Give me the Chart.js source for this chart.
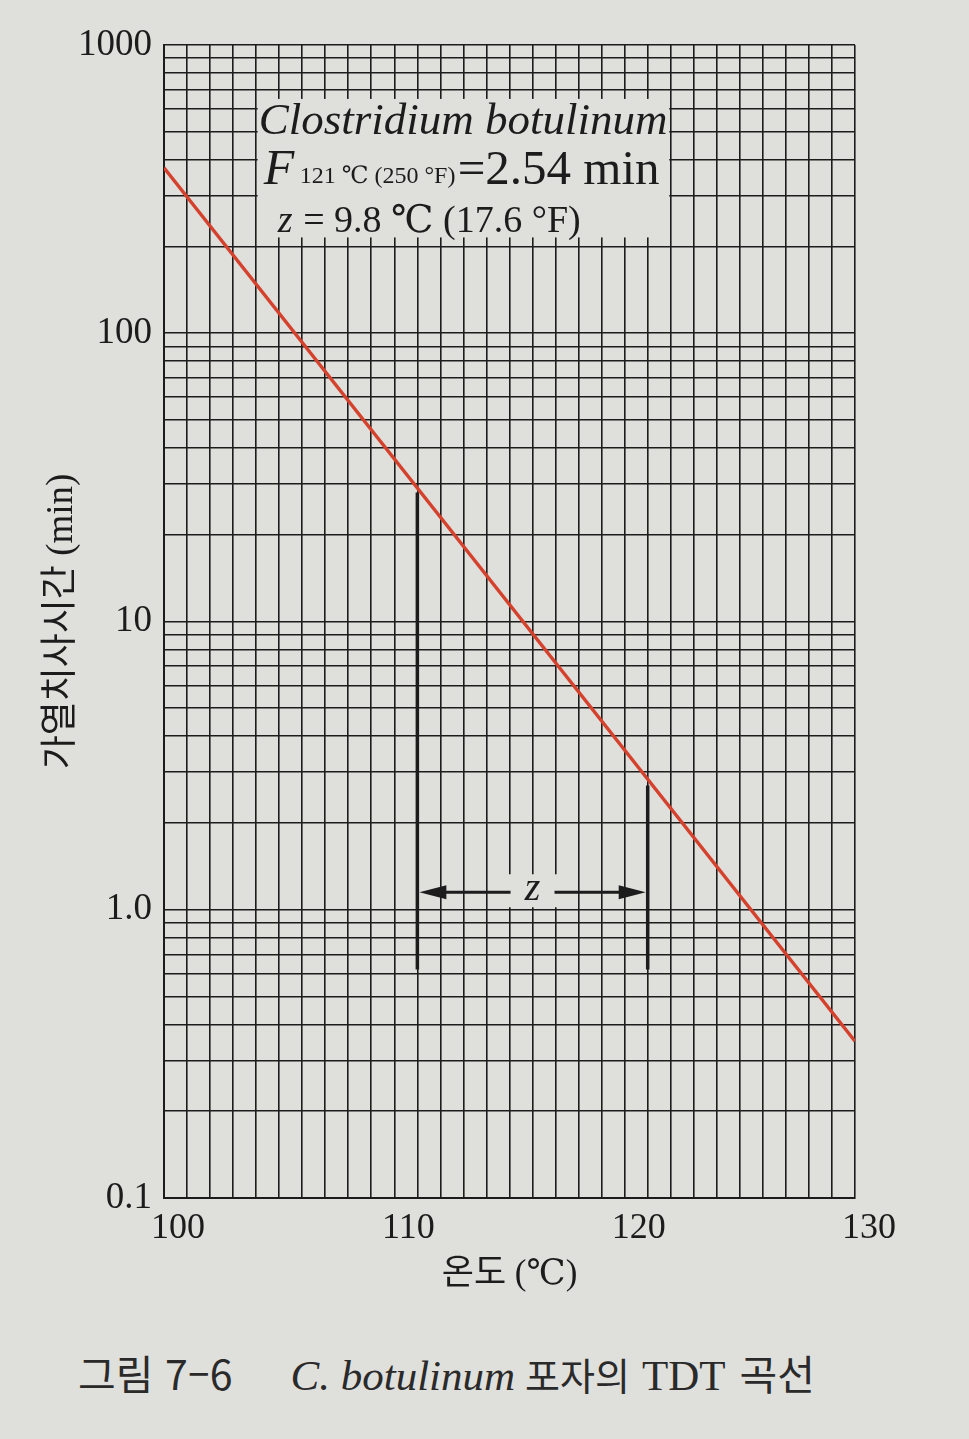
<!DOCTYPE html>
<html lang="ko">
<head>
<meta charset="utf-8">
<title>C. botulinum TDT</title>
<script src="https://cdn.jsdelivr.net/npm/chart.js@4.4.1/dist/chart.umd.min.js"></script>
<style>
  html, body { margin: 0; background: #dfdfdc; }
  #wrap { position: absolute; left: 0; top: 0; width: 969px; height: 1320px; }
  #caption { position: absolute; left: 78px; top: 1345px; white-space: nowrap; color: #2a2a2a; line-height: 54px; font-size: 0; }
  .kr { font-family: 'Noto Sans CJK KR', sans-serif; font-size: 41px; }
  .it { font-family: 'Liberation Serif', serif; font-style: italic; font-size: 43px; }
  .sr { font-family: 'Liberation Serif', serif; font-size: 43px; }
</style>
</head>
<body>
<div id="wrap"><canvas id="tdtChart"></canvas></div>
<div id="caption"><span class="kr">그림 7–6</span><span class="it" style="margin-left:58px">C. botulinum</span><span class="kr" style="margin-left:10px;font-size:38px">포자의</span><span class="sr" style="margin-left:12px">TDT</span><span class="kr" style="margin-left:14px;font-size:41px">곡선</span></div>
<script>
// TDT curve (temperature in C, time in min)
const tdtTemp = [100, 130];
const tdtTime = [375, 0.35];

// z markers: the two temperatures, where they meet the curve, and the arrow height
const zTemp = [111, 121];
const zTop = [28, 2.7];
const zBottom = 0.62;
const zArrowTime = 1.15;

// axis ticks
const xMin = 100;
const xMax = 130;
const xLabelled = [100, 110, 120, 130];
const yDecades = [0.1, 1, 10, 100, 1000];
const yDecadeLabels = ['0.1', '1.0', '10', '100', '1000'];

const paper = '#dfdfdc';
const ink = '#1c1c1c';
const serif = "'Liberation Serif', 'DejaVu Serif', 'Noto Sans CJK KR', serif";

// minor grid values 1..9 in every decade
const yGrid = [];
yDecades.forEach((d, i) => {
    if (i === yDecades.length - 1) { yGrid.push(d); return; }
    for (let m = 1; m <= 9; m++) yGrid.push(+(d * m).toPrecision(3));
});

// plugin for the text box and the z arrow
const annotations = {
    id: 'annotations',
    beforeDatasetsDraw(chart) {
        const { ctx, scales: { x, y } } = chart;
        ctx.save();
        // blank box behind the legend text
        const l = x.getPixelForValue(104) + 1.5;
        const r = x.getPixelForValue(122) - 1.5;
        const t = y.getPixelForValue(650);
        const b = y.getPixelForValue(215);
        ctx.fillStyle = paper;
        ctx.fillRect(l, t, r - l, b - t);

        ctx.fillStyle = ink;
        ctx.textBaseline = 'alphabetic';
        ctx.font = 'italic 45px ' + serif;
        ctx.fillText('Clostridium botulinum', l + 1, t + 35);

        ctx.font = 'italic 50px ' + serif;
        ctx.fillText('F', l + 6, t + 85);
        ctx.font = '24px ' + serif;
        ctx.fillText('121 ℃ (250 °F)', l + 42, t + 84);
        ctx.font = '49px ' + serif;
        ctx.fillText('=2.54 min', l + 200, t + 85);

        ctx.font = 'italic 38px ' + serif;
        ctx.fillText('z', l + 20, t + 133);
        ctx.font = '38px ' + serif;
        ctx.fillText(' = 9.8 ℃ (17.6 °F)', l + 36, t + 133);

        // blank patch behind the z label
        const mid = (x.getPixelForValue(zTemp[0]) + x.getPixelForValue(zTemp[1])) / 2;
        const ay = y.getPixelForValue(zArrowTime);
        ctx.fillStyle = paper;
        ctx.fillRect(mid - 32, ay - 18, 64, 33);
        ctx.restore();
    },
    afterDatasetsDraw(chart) {
        const { ctx, scales: { x, y } } = chart;
        const x1 = x.getPixelForValue(zTemp[0]);
        const x2 = x.getPixelForValue(zTemp[1]);
        const ay = y.getPixelForValue(zArrowTime);
        const mid = (x1 + x2) / 2;
        ctx.save();
        ctx.strokeStyle = ink;
        ctx.fillStyle = ink;
        ctx.lineWidth = 3;
        ctx.beginPath();
        ctx.moveTo(x1 + 20, ay); ctx.lineTo(mid - 22, ay);
        ctx.moveTo(mid + 22, ay); ctx.lineTo(x2 - 20, ay);
        ctx.stroke();
        // arrow heads
        ctx.beginPath();
        ctx.moveTo(x1 + 2, ay); ctx.lineTo(x1 + 29, ay - 7); ctx.lineTo(x1 + 29, ay + 7); ctx.closePath();
        ctx.moveTo(x2 - 2, ay); ctx.lineTo(x2 - 29, ay - 7); ctx.lineTo(x2 - 29, ay + 7); ctx.closePath();
        ctx.fill();
        ctx.font = 'italic 40px ' + serif;
        ctx.textAlign = 'center';
        ctx.textBaseline = 'middle';
        ctx.fillText('z', mid, ay - 3);
        ctx.restore();
    }
};

const zLine = (i) => ({
    data: [{ x: zTemp[i], y: zBottom }, { x: zTemp[i], y: zTop[i] }],
    showLine: true,
    borderColor: ink,
    borderWidth: 3.5,
    pointRadius: 0
});

new Chart(document.getElementById('tdtChart'), {
    type: 'scatter',
    data: {
        datasets: [
            {
                label: 'TDT',
                data: tdtTemp.map((t, i) => ({ x: t, y: tdtTime[i] })),
                showLine: true,
                borderColor: '#d4412c',
                borderWidth: 3.4,
                pointRadius: 0
            },
            zLine(0),
            zLine(1)
        ]
    },
    options: {
        responsive: true,
        maintainAspectRatio: false,
        animation: false,
        layout: { padding: { top: 45, right: 114, bottom: 0, left: 0 } },
        plugins: { legend: { display: false }, tooltip: { enabled: false } },
        scales: {
            x: {
                type: 'linear',
                min: xMin,
                max: xMax,
                afterBuildTicks(scale) {
                    const ticks = [];
                    for (let v = xMin; v <= xMax; v++) ticks.push({ value: v });
                    scale.ticks = ticks;
                },
                afterFit(scale) { scale.height = 122; },
                grid: { color: ink, lineWidth: 1.6, drawTicks: false },
                border: { color: ink, width: 2 },
                ticks: {
                    autoSkip: false,
                    maxRotation: 0,
                    padding: 9,
                    labelOffset: 14,
                    color: ink,
                    font: { family: serif, size: 36 },
                    callback: (v) => xLabelled.includes(v) ? String(v) : ''
                },
                title: {
                    display: true,
                    text: '온도 (℃)',
                    color: ink,
                    font: { family: serif, size: 35 },
                    padding: { top: 0, bottom: 24 }
                }
            },
            y: {
                type: 'logarithmic',
                min: yDecades[0],
                max: yDecades[yDecades.length - 1],
                afterBuildTicks(scale) {
                    scale.ticks = yGrid.map(v => ({ value: v }));
                },
                afterFit(scale) { scale.width = 164; },
                grid: { color: ink, lineWidth: 1.6, drawTicks: false },
                border: { color: ink, width: 2 },
                ticks: {
                    autoSkip: false,
                    padding: 12,
                    color: ink,
                    font: { family: serif, size: 37 },
                    callback: (v) => {
                        const i = yDecades.indexOf(v);
                        return i >= 0 ? yDecadeLabels[i] : '';
                    }
                },
                title: {
                    display: true,
                    text: '가열치사시간 (min)',
                    color: ink,
                    font: { family: serif, size: 37 },
                    padding: { top: 40, bottom: 0 }
                }
            }
        }
    },
    plugins: [annotations]
});
</script>
</body>
</html>
